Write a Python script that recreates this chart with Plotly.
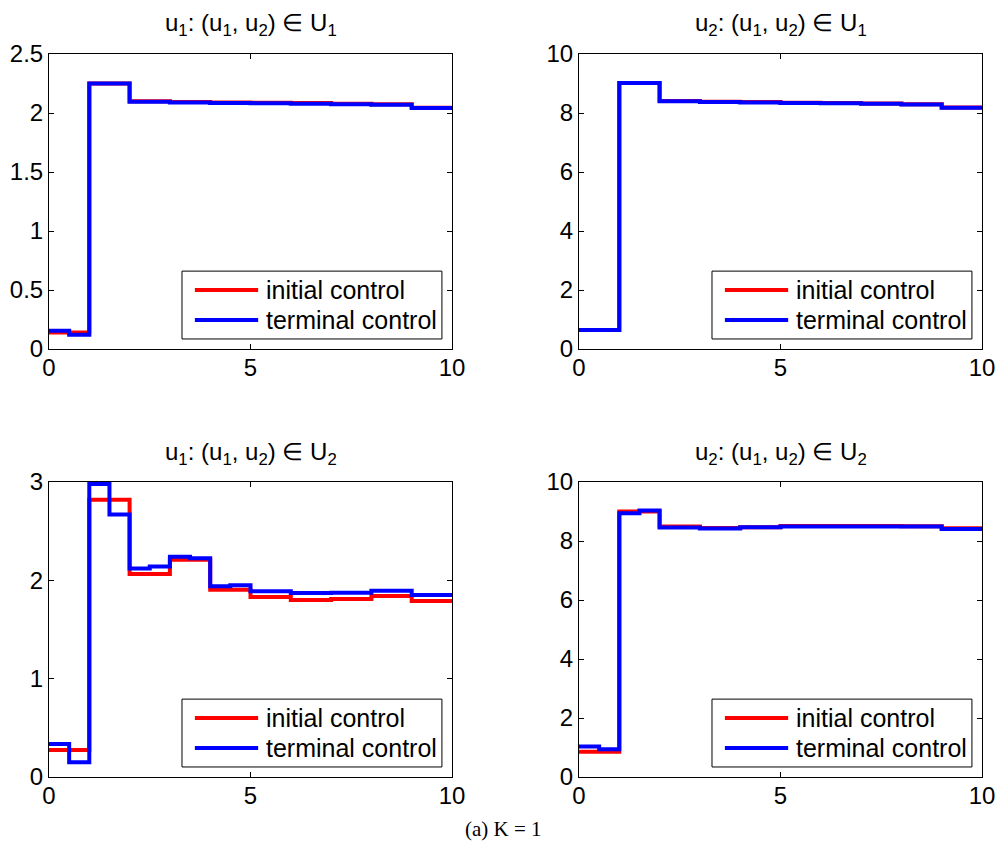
import plotly.graph_objects as go

# time grid (step edges) shared by all panels
t_edges = [0, 0.5, 1, 1.5, 2, 2.5, 3, 3.5, 4, 4.5, 5, 6, 7, 8, 9, 10]

# values on each interval (15 intervals)
u1_U1_initial  = [0.14, 0.14, 2.25, 2.25, 2.100, 2.100, 2.093, 2.093, 2.090, 2.090, 2.087, 2.084, 2.079, 2.075, 2.045]
u1_U1_terminal = [0.154, 0.12, 2.25, 2.25, 2.096, 2.096, 2.088, 2.088, 2.085, 2.085, 2.082, 2.079, 2.074, 2.070, 2.042]
u2_U1_initial  = [0.64, 0.64, 9.02, 9.02, 8.41, 8.41, 8.38, 8.38, 8.37, 8.37, 8.35, 8.34, 8.32, 8.30, 8.19]
u2_U1_terminal = [0.64, 0.64, 9.02, 9.02, 8.40, 8.40, 8.37, 8.37, 8.36, 8.36, 8.34, 8.33, 8.31, 8.29, 8.18]
u1_U2_initial  = [0.275, 0.275, 2.82, 2.82, 2.065, 2.065, 2.21, 2.21, 1.905, 1.905, 1.83, 1.80, 1.81, 1.84, 1.79]
u1_U2_terminal = [0.336, 0.149, 2.98, 2.67, 2.12, 2.14, 2.24, 2.225, 1.94, 1.95, 1.89, 1.87, 1.875, 1.895, 1.85]
u2_U2_initial  = [0.86, 0.86, 9.00, 9.00, 8.49, 8.49, 8.44, 8.44, 8.47, 8.47, 8.51, 8.51, 8.51, 8.50, 8.43]
u2_U2_terminal = [1.03, 0.94, 8.94, 9.03, 8.46, 8.46, 8.42, 8.42, 8.47, 8.47, 8.49, 8.49, 8.49, 8.49, 8.41]

titles = [
    "u<sub>1</sub>: (u<sub>1</sub>, u<sub>2</sub>) \u2208 U<sub>1</sub>",
    "u<sub>2</sub>: (u<sub>1</sub>, u<sub>2</sub>) \u2208 U<sub>1</sub>",
    "u<sub>1</sub>: (u<sub>1</sub>, u<sub>2</sub>) \u2208 U<sub>2</sub>",
    "u<sub>2</sub>: (u<sub>1</sub>, u<sub>2</sub>) \u2208 U<sub>2</sub>",
]
y_ranges = [[0, 2.5], [0, 10], [0, 3], [0, 10]]
y_dticks = [0.5, 2, 1, 2]
x_ticks = [0, 5, 10]
legend_labels = ["initial control", "terminal control"]
caption = "(a) K = 1"

series = [
    (u1_U1_initial, u1_U1_terminal),
    (u2_U1_initial, u2_U1_terminal),
    (u1_U2_initial, u1_U2_terminal),
    (u2_U2_initial, u2_U2_terminal),
]

W, H = 1000, 847
# plot-area pixel boxes
px_x = [(49, 452), (579, 982), (49, 452), (579, 982)]
px_y = [(54, 349), (54, 349), (482, 777), (482, 777)]

FONT = "Liberation Sans, Arial, sans-serif"
RED = "#ff0000"
BLUE = "#0000ff"

fig = go.Figure()
layout = dict(
    width=W, height=H,
    margin=dict(l=0, r=0, t=0, b=0, autoexpand=False),
    paper_bgcolor="white", plot_bgcolor="white",
    showlegend=False,
    font=dict(family=FONT, size=24, color="black"),
)
shapes = []
annotations = []

for i in range(4):
    sfx = "" if i == 0 else str(i + 1)
    xa, ya = "x" + sfx, "y" + sfx
    init, term = series[i]
    fig.add_trace(go.Scatter(x=t_edges, y=init + [init[-1]], mode="lines", line_shape="hv",
                             line=dict(color=RED, width=4), xaxis=xa, yaxis=ya, name=legend_labels[0]))
    fig.add_trace(go.Scatter(x=t_edges, y=term + [term[-1]], mode="lines", line_shape="hv",
                             line=dict(color=BLUE, width=4), xaxis=xa, yaxis=ya, name=legend_labels[1]))
    x0, x1 = px_x[i]
    y0, y1 = px_y[i]
    common = dict(showline=True, linecolor="black", linewidth=1, mirror="ticks",
                  ticks="inside", ticklen=5, tickcolor="black", showgrid=False,
                  zeroline=False, automargin=False,
                  tickfont=dict(family=FONT, size=24, color="black"))
    layout["xaxis" + sfx] = dict(domain=[x0 / W, x1 / W], anchor=ya, range=[0, 10],
                                 tickvals=x_ticks, ticklabelstandoff=-3, **common)
    layout["yaxis" + sfx] = dict(domain=[1 - y1 / H, 1 - y0 / H], anchor=xa, range=y_ranges[i],
                                 dtick=y_dticks[i], tick0=0, **common)
    # title
    annotations.append(dict(text=titles[i], x=(x0 + x1) / 2 / W, y=1 - (y0 - 29) / H,
                            xref="paper", yref="paper", showarrow=False, xanchor="center",
                            yanchor="middle", font=dict(family=FONT, size=24, color="black")))
    # legend box
    xd, yd = xa + " domain", ya + " domain"
    shapes.append(dict(type="rect", xref=xd, yref=yd, x0=0.330, x1=0.975, y0=0.034, y1=0.264,
                       line=dict(color="black", width=1), fillcolor="white", layer="above"))
    for k, (col, yy) in enumerate([(RED, 0.200), (BLUE, 0.098)]):
        shapes.append(dict(type="line", xref=xd, yref=yd, x0=0.362, x1=0.519, y0=yy, y1=yy,
                           line=dict(color=col, width=4), layer="above"))
        annotations.append(dict(text=legend_labels[k], xref=xd, yref=yd, x=0.533, y=yy,
                                xanchor="left", yanchor="middle", showarrow=False,
                                font=dict(family=FONT, size=25, color="black")))

annotations.append(dict(text=caption, x=503 / W, y=1 - 829 / H, xref="paper", yref="paper",
                        showarrow=False, xanchor="center", yanchor="middle",
                        font=dict(family="Liberation Serif, serif", size=21, color="black")))

layout["shapes"] = shapes
layout["annotations"] = annotations
fig.update_layout(**layout)
fig.write_html("out.html", config={"displayModeBar": False},
               post_script="document.body.style.margin='0';document.body.style.padding='0';")
